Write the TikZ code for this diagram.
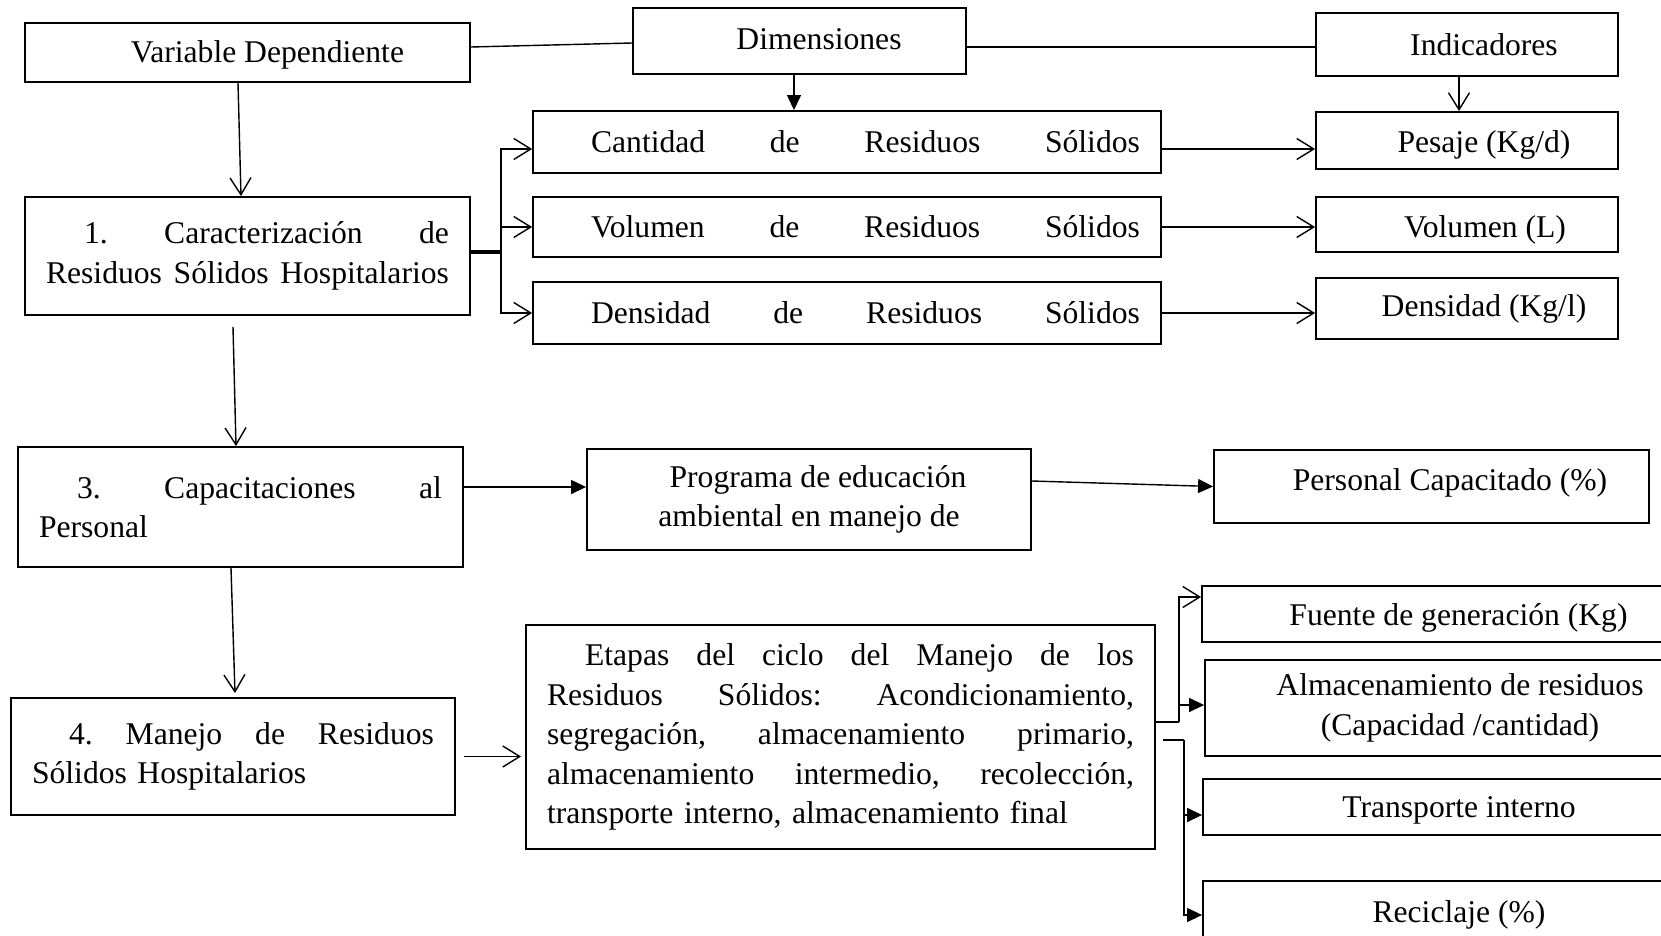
\documentclass[tikz,border=0pt]{standalone}
\usepackage{fontspec}
\setmainfont{Liberation Serif}
\usetikzlibrary{arrows.meta}

\begin{document}
\begin{tikzpicture}[x=0.02cm,y=-0.02cm,
  caja/.style={draw,line width=1.1pt,inner sep=0pt,font=\fontsize{18}{22.5}\selectfont},
  parrafo/.style={caja,inner xsep=0.42cm,align=left},
  linea/.style={line width=0.8pt},
  flecha/.style={linea,-{Straight Barb[length=0.34cm,width=0.42cm]}},
  llena/.style={linea,-{Triangle[length=0.3cm,width=0.28cm]}}]

  \useasboundingbox (0,0) rectangle (1661,936);
  \clip (0,0) rectangle (1661,936);

  % encabezados
  \node[caja,minimum width=8.9cm,minimum height=1.18cm] (vd) at (247.5,52.5) {\raisebox{-0.04cm}[\height][\depth]{\hspace*{0.8cm}Variable Dependiente}};
  \node[caja,minimum width=6.66cm,minimum height=1.32cm] (dim) at (799.5,41) {\raisebox{0.04cm}[\height][\depth]{\hspace*{0.78cm}Dimensiones}};
  \node[caja,minimum width=6.04cm,minimum height=1.26cm] (ind) at (1467,44.5) {\hspace*{0.68cm}Indicadores};

  % dimensiones
  \node[parrafo,text width=11.72cm,minimum height=1.24cm] (cant) at (847,142) {\hspace*{0.74cm}Cantidad\hfill de\hfill Residuos\hfill Sólidos};
  \node[parrafo,text width=11.72cm,minimum height=1.2cm] (volu) at (847,227) {\hspace*{0.74cm}Volumen\hfill de\hfill Residuos\hfill Sólidos};
  \node[parrafo,text width=11.72cm,minimum height=1.24cm] (dens) at (847,313) {\hspace*{0.74cm}Densidad\hfill de\hfill Residuos\hfill Sólidos};

  % indicadores
  \node[caja,minimum width=6.04cm,minimum height=1.14cm] (pes) at (1467,140.5) {\raisebox{-0.09cm}[\height][\depth]{\hspace*{0.68cm}Pesaje (Kg/d)}};
  \node[caja,minimum width=6.04cm,minimum height=1.1cm] (voll) at (1467,224.5) {\raisebox{-0.1cm}[\height][\depth]{\hspace*{0.72cm}Volumen (L)}};
  \node[caja,minimum width=6.04cm,minimum height=1.22cm] (densi) at (1467,308.5) {\hspace*{0.68cm}Densidad (Kg/l)};

  % variables
  \node[parrafo,text width=8.06cm,minimum height=2.36cm] (car) at (247.5,256) {\hspace*{0.76cm}1.\hfill Caracterización\hfill de\\Residuos\hfill Sólidos\hfill Hospitalarios};
  \node[parrafo,text width=8.06cm,minimum height=2.4cm] (cap) at (240.5,507) {\hspace*{0.76cm}3.\hfill Capacitaciones\hfill al\\Personal};
  \node[parrafo,text width=8.04cm,minimum height=2.34cm] (man) at (233,756.5) {\hspace*{0.74cm}4.\hfill Manejo\hfill de\hfill Residuos\\Sólidos Hospitalarios};

  \node[caja,minimum width=8.88cm,minimum height=2.02cm,align=center] (prog) at (809,499.5) {\hspace*{0.36cm}Programa de educación\\ambiental en manejo de};
  \node[caja,minimum width=8.7cm,minimum height=1.46cm] (pers) at (1431.5,486.5) {\raisebox{0.08cm}[\height][\depth]{\hspace*{0.74cm}Personal Capacitado (\%)}};

  \node[parrafo,text width=11.74cm,minimum height=4.48cm] (eta) at (840.5,737) {\hspace*{0.76cm}Etapas\hfill del\hfill ciclo\hfill del\hfill Manejo\hfill de\hfill los\\Residuos\hfill Sólidos:\hfill Acondicionamiento,\\segregación,\hfill almacenamiento\hfill primario,\\almacenamiento\hfill intermedio,\hfill recolección,\\transporte interno, almacenamiento final};

  % etapas
  \node[caja,minimum width=10.26cm,minimum height=1.12cm] (fue) at (1458.5,614) {\raisebox{-0.08cm}[\height][\depth]{Fuente de generación (Kg)}};
  \node[caja,minimum width=10.2cm,minimum height=1.92cm,align=center] (alm) at (1460,708) {Almacenamiento de residuos\\(Capacidad /cantidad)};
  \node[caja,minimum width=10.24cm,minimum height=1.12cm] (tra) at (1459,807) {\raisebox{-0.06cm}[\height][\depth]{Transporte interno}};
  \node[caja,minimum width=10.24cm,minimum height=1.36cm] (rec) at (1459,915) {Reciclaje (\%)};

  % conectores
  \draw[linea] ([yshift=0.11cm]vd.east) -- ([yshift=-0.04cm]dim.west);
  \draw[linea] ([yshift=-0.12cm]dim.east) -- ([yshift=-0.12cm]dim.east -| ind.west);
  \draw[llena] ([xshift=-0.11cm]dim.south) -- ([xshift=-0.11cm]dim.south |- cant.north);
  \draw[flecha] ([xshift=-0.16cm]ind.south) -- ([xshift=-0.16cm]ind.south |- pes.north);
  \draw[flecha] ([xshift=-0.19cm]vd.south) -- ([xshift=-0.13cm]car.north);

  \draw[line width=2.2pt] ([yshift=0.08cm]car.east) -- ++(0.6cm,0) coordinate (bif);
  \draw[flecha] (bif) |- ([yshift=-0.14cm]cant.west);
  \draw[flecha] (bif) |- (volu.west);
  \draw[flecha] (bif) |- (dens.west);

  \draw[flecha] ([yshift=-0.14cm]cant.east) -- ([yshift=-0.14cm]cant.east -| pes.west);
  \draw[flecha] (volu.east) -- (volu.east -| voll.west);
  \draw[flecha] (dens.east) -- (dens.east -| densi.west);

  \draw[flecha] ([xshift=-0.29cm,yshift=-0.22cm]car.south) -- ([xshift=-0.09cm]cap.north);
  \draw[llena] ([yshift=0.4cm]cap.east) -- ([yshift=0.4cm]cap.east -| prog.west);
  \draw[llena] ([yshift=0.37cm]prog.east) -- (pers.west);
  \draw[flecha] ([xshift=-0.19cm]cap.south) -- ([xshift=0.04cm,yshift=0.08cm]man.north);
  \draw[flecha] ([xshift=0.16cm]man.east) -- ([xshift=-0.08cm]man.east -| eta.west);

  \draw[linea] ([yshift=0.3cm]eta.east) -- ++(0.46cm,0) coordinate (r1);
  \draw[flecha] (r1) |- ([yshift=0.34cm]fue.west);
  \draw[llena] (r1) |- ([yshift=0.06cm]alm.west);
  \draw[linea] ([xshift=0.14cm,yshift=-0.06cm]eta.east) -- ++(0.42cm,0) coordinate (r2);
  \draw[llena] (r2) |- ([yshift=-0.16cm]tra.west);
  \draw[llena] (r2) |- (rec.west);
\end{tikzpicture}
\end{document}
